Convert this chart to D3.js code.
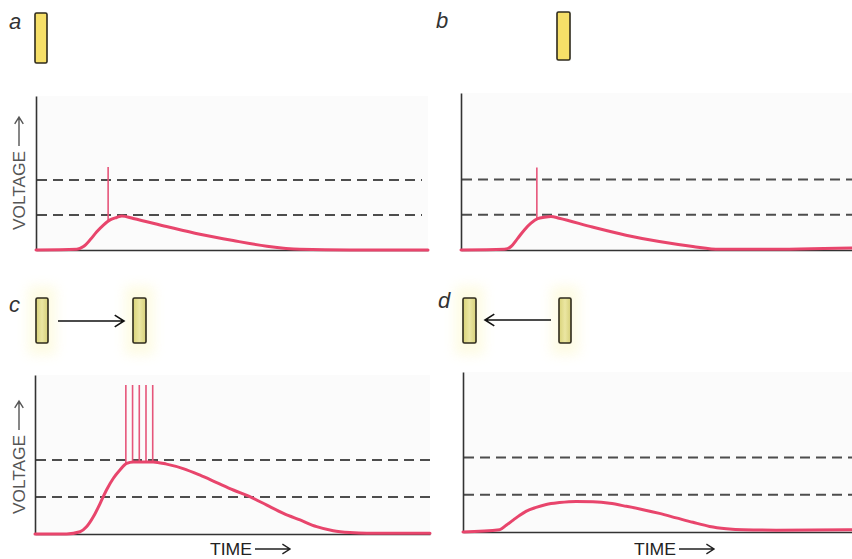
<!DOCTYPE html>
<html>
<head>
<meta charset="utf-8">
<script src="https://cdn.jsdelivr.net/npm/d3@7"></script>
<style>
  html, body { margin: 0; padding: 0; background: #ffffff; }
  svg { display: block; font-family: "Liberation Sans", Arial, Helvetica, sans-serif; }
</style>
</head>
<body>
<svg id="chart" width="852" height="559"></svg>
<script>
// Membrane voltage traces for four stimulation conditions.
// Time runs 0..100 along each trace; voltage is in threshold units
// (0 = resting level, 1 = lower threshold, 2 = upper threshold).
const thresholds = [1, 2];
const panelLabels = ["a", "b", "c", "d"];

const timeA = [0, 10.4, 12.1, 13.8, 15.5, 17.2, 18.9, 20.6, 21.9, 24.8, 33.3, 41.8, 50.3, 58.9, 67.3, 80, 100];
const voltA = [0, 0.02, 0.1, 0.29, 0.52, 0.71, 0.86, 0.93, 0.97, 0.9, 0.67, 0.45, 0.27, 0.11, 0.02, 0, 0];

const timeB = [0, 11.1, 12.8, 14.5, 16.2, 17.9, 19.6, 21.3, 23.0, 25.1, 33.6, 42.2, 50.7, 59.3, 66.1, 76.3, 100];
const voltB = [0, 0.02, 0.1, 0.33, 0.57, 0.76, 0.89, 0.93, 0.95, 0.9, 0.65, 0.42, 0.24, 0.1, 0.02, 0.02, 0.06];

const timeC = [0, 8.0, 11.4, 13.1, 14.8, 16.5, 18.1, 19.8, 21.5, 23.2, 24.9, 27.4, 29.9, 33.3, 37.5, 41.8, 46.0, 50.2, 54.4, 58.7, 62.9, 67.1, 71.3, 75.5, 79.7, 84.0, 100];
const voltC = [0, 0, 0.06, 0.2, 0.47, 0.83, 1.19, 1.5, 1.73, 1.91, 1.95, 1.95, 1.95, 1.89, 1.77, 1.59, 1.39, 1.19, 1.01, 0.78, 0.56, 0.38, 0.2, 0.09, 0.04, 0.02, 0.02];

const timeD = [0, 9.4, 11.1, 12.9, 14.6, 16.3, 18.8, 21.4, 24.8, 29.1, 33.4, 37.7, 42.0, 46.3, 50.5, 54.8, 59.1, 63.4, 67.7, 72.0, 80.5, 100];
const voltD = [0, 0.06, 0.18, 0.32, 0.45, 0.56, 0.66, 0.74, 0.79, 0.82, 0.81, 0.77, 0.69, 0.6, 0.5, 0.38, 0.26, 0.15, 0.09, 0.06, 0.05, 0.06];

// Action-potential spikes: firing times and the voltage each spike reaches
const spikeTimesA = [18.4];
const spikeTimesB = [19.4];
const spikeTimesC = [23.0, 24.7, 26.4, 28.1, 29.8];
const spikeTimesD = [];
const spikePeakA = 2.37;
const spikePeakB = 2.34;
const spikePeakC = 4.03;

const timeDomain = [0, 100];

// Layout of the four panels
const panels = [
  { label: "a", t: timeA, v: voltA, spikes: spikeTimesA, peak: spikePeakA,
    x0: 36, x1: 428, yBase: 250, yTop: 96, vTop: 4.4, dashEnd: 422,
    voltLabel: true, timeLabel: false,
    labelPos: [9, 29], rects: [[35, 13, 12, 50]], style: "bright", arrow: null },
  { label: "b", t: timeB, v: voltB, spikes: spikeTimesB, peak: spikePeakB,
    x0: 461, x1: 852, yBase: 250, yTop: 93, vTop: 4.45, dashEnd: 852,
    voltLabel: false, timeLabel: false,
    labelPos: [436, 28], rects: [[557, 12, 13, 48]], style: "bright", arrow: null },
  { label: "c", t: timeC, v: voltC, spikes: spikeTimesC, peak: spikePeakC,
    x0: 35, x1: 430, yBase: 534, yTop: 375, vTop: 4.3, dashEnd: 430,
    voltLabel: true, timeLabel: true,
    labelPos: [9, 312], rects: [[36, 298, 12, 45], [133, 298, 13, 45]], style: "soft",
    arrow: { from: 58, to: 124, y: 321 } },
  { label: "d", t: timeD, v: voltD, spikes: spikeTimesD, peak: 0,
    x0: 463, x1: 852, yBase: 532, yTop: 372, vTop: 4.3, dashEnd: 852,
    voltLabel: false, timeLabel: true,
    labelPos: [438, 308], rects: [[463, 298, 13, 45], [559, 298, 12, 45]], style: "soft",
    arrow: { from: 551, to: 485, y: 320 } }
];

const svg = d3.select("#chart");
const defs = svg.append("defs");

defs.append("filter").attr("id", "halo")
  .attr("x", "-100%").attr("y", "-50%").attr("width", "300%").attr("height", "200%")
  .append("feGaussianBlur").attr("stdDeviation", 6);

const softGrad = defs.append("linearGradient").attr("id", "softFill")
  .attr("x1", 0).attr("x2", 1).attr("y1", 0).attr("y2", 0);
softGrad.append("stop").attr("offset", "0%").attr("stop-color", "#d9d37a");
softGrad.append("stop").attr("offset", "50%").attr("stop-color", "#ebe6a2");
softGrad.append("stop").attr("offset", "100%").attr("stop-color", "#d6d07a");

const curveColor = "#e8456c";
const spikeColor = "#e6557a";
const dashColor = "#4d4d4d";
const axisColor = "#333333";

// Draws an arrow made of a shaft and an open chevron head
function arrowPath(x1, y1, x2, y2, head) {
  const ang = Math.atan2(y2 - y1, x2 - x1);
  const a1 = ang + Math.PI * 0.82, a2 = ang - Math.PI * 0.82;
  return `M${x1},${y1}L${x2},${y2}` +
    `M${x2 + head * Math.cos(a1)},${y2 + head * Math.sin(a1)}L${x2},${y2}` +
    `L${x2 + head * Math.cos(a2)},${y2 + head * Math.sin(a2)}`;
}

panels.forEach(p => {
  const g = svg.append("g").attr("class", "panel-" + p.label);

  const x = d3.scaleLinear().domain(timeDomain).range([p.x0, p.x1]);
  const y = d3.scaleLinear().domain([0, p.vTop]).range([p.yBase, p.yTop]);

  // faint plot backdrop
  g.append("rect")
    .attr("x", p.x0).attr("y", p.yTop)
    .attr("width", p.x1 - p.x0).attr("height", p.yBase - p.yTop)
    .attr("fill", "#fbfbfb");

  // threshold lines
  g.selectAll("line.threshold").data(thresholds).join("line")
    .attr("class", "threshold")
    .attr("x1", p.x0 + 1).attr("x2", p.dashEnd)
    .attr("y1", d => y(d)).attr("y2", d => y(d))
    .attr("stroke", dashColor).attr("stroke-width", 2)
    .attr("stroke-dasharray", "10,6");

  // axes with no ticks, only their lines
  g.append("g").attr("transform", `translate(0,${p.yBase})`)
    .call(d3.axisBottom(x).tickValues([]).tickSizeOuter(0))
    .call(s => s.select(".domain").attr("stroke", axisColor).attr("stroke-width", 1.6));
  g.append("g").attr("transform", `translate(${p.x0},0)`)
    .call(d3.axisLeft(y).tickValues([]).tickSizeOuter(0))
    .call(s => s.select(".domain").attr("stroke", axisColor).attr("stroke-width", 1.6));

  // spikes rise from the trace
  const pts = p.t.map((t, i) => [t, p.v[i]]);
  const interp = t => {
    for (let i = 1; i < pts.length; i++) {
      if (t <= pts[i][0]) {
        const [t0, v0] = pts[i - 1], [t1, v1] = pts[i];
        return v0 + (v1 - v0) * (t - t0) / (t1 - t0);
      }
    }
    return pts[pts.length - 1][1];
  };
  g.selectAll("line.spike").data(p.spikes).join("line")
    .attr("class", "spike")
    .attr("x1", d => x(d)).attr("x2", d => x(d))
    .attr("y1", d => y(interp(d))).attr("y2", y(p.peak))
    .attr("stroke", spikeColor).attr("stroke-width", 1.6);

  // voltage trace
  const line = d3.line().x(d => x(d[0])).y(d => y(d[1])).curve(d3.curveMonotoneX);
  g.append("path").datum(pts)
    .attr("d", line)
    .attr("fill", "none")
    .attr("stroke", curveColor)
    .attr("stroke-width", 3)
    .attr("stroke-linejoin", "round")
    .attr("stroke-linecap", "round");

  // electrode / cell markers above the trace
  if (p.style === "soft") {
    g.selectAll("rect.halo").data(p.rects).join("rect")
      .attr("class", "halo")
      .attr("x", d => d[0] - 8).attr("y", d => d[1] - 12)
      .attr("width", d => d[2] + 16).attr("height", d => d[3] + 24)
      .attr("fill", "#fcf7c4").attr("opacity", 0.45)
      .attr("filter", "url(#halo)");
  }
  g.selectAll("rect.cell").data(p.rects).join("rect")
    .attr("class", "cell")
    .attr("x", d => d[0]).attr("y", d => d[1])
    .attr("width", d => d[2]).attr("height", d => d[3])
    .attr("rx", 1.5)
    .attr("fill", p.style === "soft" ? "url(#softFill)" : "#f6df68")
    .attr("stroke", "#2e2a1c").attr("stroke-width", 1.6);

  if (p.arrow) {
    g.append("path")
      .attr("d", arrowPath(p.arrow.from, p.arrow.y, p.arrow.to, p.arrow.y, 11))
      .attr("fill", "none").attr("stroke", "#111").attr("stroke-width", 1.6);
  }

  // panel letter
  g.append("text")
    .attr("x", p.labelPos[0]).attr("y", p.labelPos[1])
    .attr("font-size", 22).attr("font-style", "italic")
    .attr("fill", "#333")
    .text(p.label);

  if (p.voltLabel) {
    const cx = 25;
    g.append("text")
      .attr("transform", `translate(${cx},${p.yBase - 20}) rotate(-90)`)
      .attr("font-size", 17).attr("fill", "#555")
      .attr("textLength", 79).attr("lengthAdjust", "spacingAndGlyphs")
      .text("VOLTAGE");
    const top = p.yBase - 20 - 79;
    g.append("path")
      .attr("d", arrowPath(cx - 6, top - 5, cx - 6, top - 34, 8))
      .attr("fill", "none").attr("stroke", "#555").attr("stroke-width", 1.4);
  }

  if (p.timeLabel) {
    const tx = (p.label === "c") ? 210 : 634;
    g.append("text")
      .attr("x", tx).attr("y", 555)
      .attr("font-size", 17).attr("fill", "#222")
      .attr("textLength", 42).attr("lengthAdjust", "spacingAndGlyphs")
      .text("TIME");
    g.append("path")
      .attr("d", arrowPath(tx + 45, 549, tx + 80, 549, 9))
      .attr("fill", "none").attr("stroke", "#222").attr("stroke-width", 1.4);
  }
});
</script>
</body>
</html>
